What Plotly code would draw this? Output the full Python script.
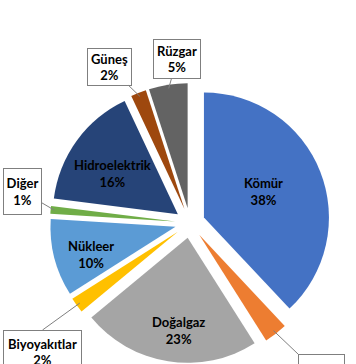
import math
import plotly.graph_objects as go

# ---- data ----
labels = ['Kömür', 'Petrol', 'Doğalgaz', 'Biyoyakıtlar', 'Nükleer', 'Diğer',
          'Hidroelektrik', 'Güneş', 'Rüzgar']
values = [38, 3, 23, 2, 10, 1, 16, 2, 5]
colors = ['#4472C4', '#ED7D31', '#A5A5A5', '#FFC000', '#5B9BD5', '#70AD47',
          '#264478', '#9E480E', '#636363']

# ---- layout geometry (window pixels; body margin removed via post_script) ----
W, H = 356, 364
CX, CY = 190, 223   # pie centre px
R = 125
PULL = 0.12
half = R * (1 + PULL)
dom_x = [(CX - half) / W, (CX + half) / W]
dom_y = [1 - (CY + half) / H, 1 - (CY - half) / H]

FONT = dict(family='Lato, Open Sans, sans-serif', size=13, color='black', weight='bold')

fig = go.Figure(go.Pie(
    labels=labels, values=values,
    sort=False, direction='clockwise', rotation=0,
    pull=[PULL] * len(values),
    marker=dict(colors=colors, line=dict(width=0)),
    textinfo='none',
    showlegend=False,
    hoverinfo='label+percent',
    domain=dict(x=dom_x, y=dom_y),
))

def px(x, y):
    return x / W, 1 - y / H

total = sum(values)

# inside labels: centre position in px
inside = {
    'Kömür': (263, 191),
    'Doğalgaz': (178, 330),
    'Nükleer': (91, 255),
    'Hidroelektrik': (112, 173),
}
# callout boxes: anchor point px, width, height, xanchor, yanchor, valign
callouts = {
    'Güneş': (109.5, 67, 45, 38, 'center', 'middle', 'middle'),
    'Rüzgar': (177, 59, 48, 40, 'center', 'middle', 'middle'),
    'Diğer': (22.5, 191.5, 39, 47, 'center', 'middle', 'middle'),
    'Biyoyakıtlar': (42.5, 330, 79, 44, 'center', 'top', 'middle'),
    'Petrol': (298, 354, 47, 44, 'left', 'top', 'bottom'),
}

cum = 0
for lab, v in zip(labels, values):
    mid = (cum + v / 2) / total * 2 * math.pi
    cum += v
    pct = round(v / total * 100)
    txt = f'{lab}<br>{pct}%'
    if lab in inside:
        x, y = px(*inside[lab])
        fig.add_annotation(x=x, y=y, xref='paper', yref='paper', text=txt,
                           xanchor='center', yanchor='middle',
                           font=FONT, showarrow=False, align='center')
        continue
    dx, dy = math.sin(mid), -math.cos(mid)
    tx = CX + (PULL + 0.97) * R * dx
    ty = CY + (PULL + 0.97) * R * dy
    bx, by, bw, bh, xa, ya, va = callouts[lab]
    x, y = px(tx, ty)
    fig.add_annotation(
        x=x, y=y, xref='paper', yref='paper',
        ax=bx - tx, ay=by - ty, axref='pixel', ayref='pixel',
        xanchor=xa, yanchor=ya,
        text=txt, font=FONT,
        showarrow=True, arrowhead=0, arrowwidth=1, arrowcolor='#7F7F7F',
        bgcolor='white', bordercolor='#7F7F7F', borderwidth=1, borderpad=0,
        width=bw - 2, height=bh - 2, align='center', valign=va,
    )

fig.update_layout(
    width=W, height=H,
    margin=dict(l=0, r=0, t=0, b=0),
    paper_bgcolor='white', plot_bgcolor='white',
)

fig.write_html('out.html',
               config={'displayModeBar': False},
               post_script="document.body.style.margin='0';"
                           "document.body.style.overflow='hidden';")
